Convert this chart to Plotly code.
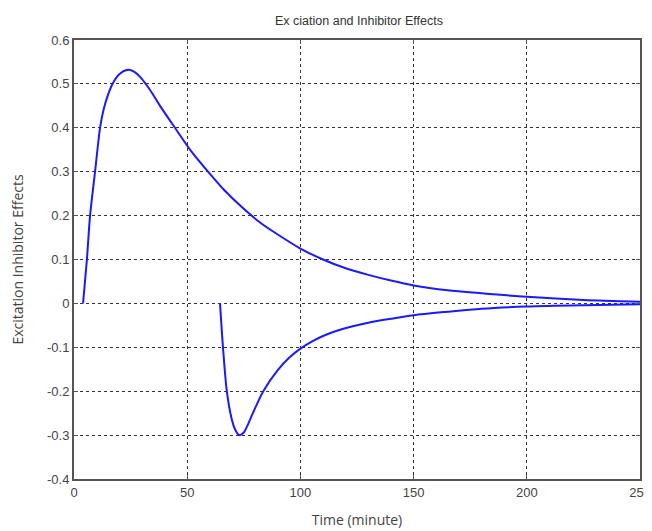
import plotly.graph_objects as go

# Excitation effect curve
exc_t = [4.0, 5.7, 7.1, 9.3, 11.5, 13.0, 15.0, 17.0, 20.0, 23.9, 26.5, 29.2, 33.6, 38.0,
         44.6, 52.0, 59.2, 66.0, 74.0, 82.0, 90.0, 100.0, 110.0, 120.0, 130.0, 140.0,
         150.0, 165.0, 180.0, 200.0, 225.0, 250.0]
exc_v = [0.0, 0.1, 0.2, 0.3, 0.4, 0.44, 0.475, 0.5, 0.522, 0.532, 0.528, 0.516, 0.486, 0.45,
         0.40, 0.345, 0.30, 0.26, 0.22, 0.185, 0.157, 0.125, 0.10, 0.08, 0.065, 0.052,
         0.041, 0.03, 0.023, 0.015, 0.008, 0.004]

# Inhibitor effect curve
inh_t = [64.5, 65.8, 67.5, 69.5, 71.2, 73.0, 75.0, 79.0, 83.6, 90.0, 95.0, 100.0, 105.0,
         111.0, 117.5, 130.0, 140.0, 150.0, 165.0, 180.0, 200.0, 225.0, 250.0]
inh_v = [0.0, -0.1, -0.2, -0.26, -0.288, -0.30, -0.294, -0.25, -0.2, -0.152, -0.124,
         -0.103, -0.087, -0.072, -0.06, -0.044, -0.035, -0.027, -0.019, -0.012, -0.007,
         -0.004, -0.002]

x_ticks = [0, 50, 100, 150, 200, 250]
x_tick_labels = ["0", "50", "100", "150", "200", "250"]
y_ticks = [0.6, 0.5, 0.4, 0.3, 0.2, 0.1, 0, -0.1, -0.2, -0.3, -0.4]
y_tick_labels = ["0.6", "0.5", "0.4", "0.3", "0.2", "0.1", "0", "-0.1", "-0.2", "-0.3", "-0.4"]

line_style = dict(color="#1a1aff", width=2, shape="spline", smoothing=0.8)
fig = go.Figure()
fig.add_trace(go.Scatter(x=exc_t, y=exc_v, mode="lines", line=line_style,
                         showlegend=False, hoverinfo="skip"))
fig.add_trace(go.Scatter(x=inh_t, y=inh_v, mode="lines", line=line_style,
                         showlegend=False, hoverinfo="skip"))

axis_common = dict(
    showgrid=True, gridcolor="#333333", griddash="3px,3px", gridwidth=1,
    showline=True, linecolor="#555555", linewidth=2, mirror="ticks",
    ticks="inside", ticklen=4, tickcolor="#555555",
    zeroline=False, automargin=False,
    tickfont=dict(family="Liberation Sans Narrow, Liberation Sans, Arial", size=13, color="#444444"),
)

# The page body adds an 8px offset, so the figure is sized 8px smaller than the window.
fig.update_layout(
    width=644, height=523,
    margin=dict(l=66, r=12, t=32, b=52),
    paper_bgcolor="white", plot_bgcolor="white",
    title=dict(text="Ex ciation and Inhibitor Effects", x=0.545, xanchor="center", y=0.975, yanchor="middle",
               font=dict(family="Liberation Sans Narrow, Liberation Sans, Arial", size=12.5, color="#333333")),
    xaxis=dict(range=[0, 250], tickvals=x_ticks, ticktext=x_tick_labels,
               title=dict(text="Time (minute)", standoff=17,
                          font=dict(family="Open Sans, Liberation Sans", size=14, color="#444444")),
               **axis_common),
    yaxis=dict(range=[-0.4, 0.6], tickvals=y_ticks, ticktext=y_tick_labels,
               title=dict(text="Excitation Inhibitor Effects", standoff=29,
                          font=dict(family="Open Sans, Liberation Sans", size=14, color="#444444")),
               **axis_common),
)

fig.write_html("out.html")
